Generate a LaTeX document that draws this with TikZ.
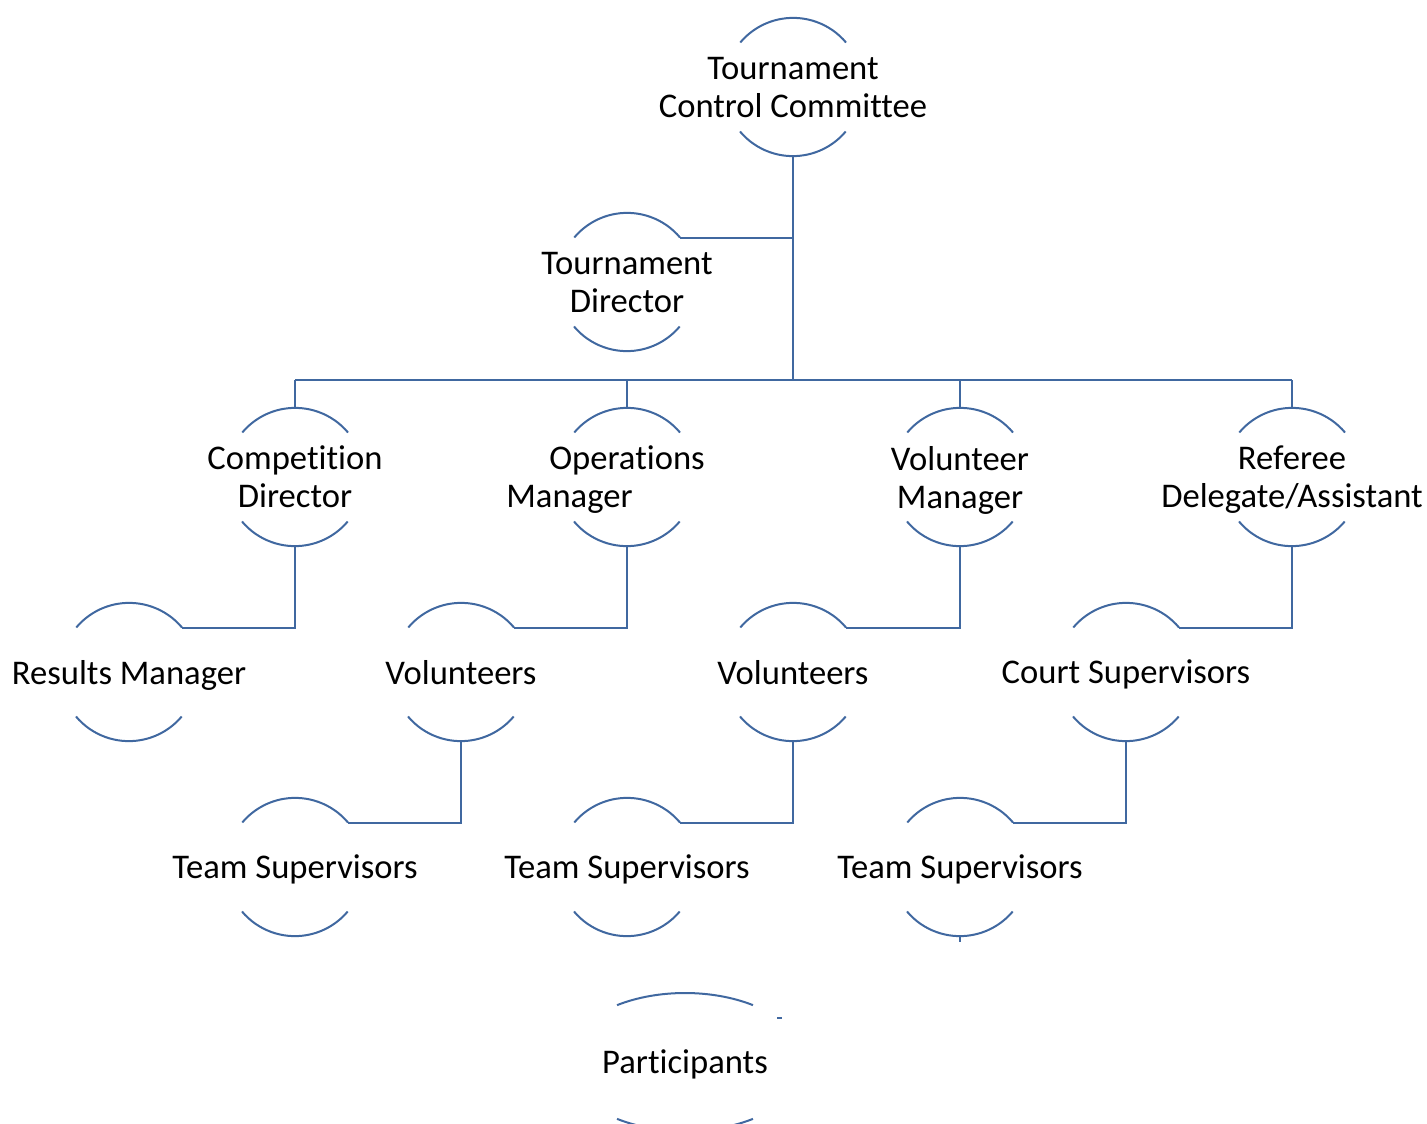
\documentclass[tikz,border=0pt]{standalone}
\usepackage{fontspec}
\setmainfont{Carlito}[Ligatures=NoCommon]
\definecolor{orgline}{RGB}{64,104,160}

\begin{document}
\begin{tikzpicture}[x=1pt,y=1pt,
    role/.style={circle,minimum size=138pt,inner sep=0pt},
    rolename/.style={align=center,text depth=0pt,font=\fontsize{34.6}{38}\selectfont},
    link/.style={draw=orgline,line width=2pt}]
      \def\r{69}
      \useasboundingbox (0,0) rectangle (1427,-1124);
      % committee and director
      \node[role,label={[rolename]center:Tournament\\Control Committee}] (tcc) at (793,-87) {};
      \node[role,label={[rolename]center:Tournament\\Director}] (td) at (627,-282) {};
      % managers
      \node[role,label={[rolename]center:Operations\\Manager\hspace*{115pt}}] (om) at (627,-477) {};
      \node[role,label={[rolename]center:Competition\\Director}] (cd) at (295,-477) {};
      \node[role,label={[rolename]center:Volunteer\\Manager}] (vm) at (960,-477) {};
      \node[role,label={[rolename]center:Referee\\Delegate/Assistant}] (rd) at (1292,-477) {};
      % second level
      \node[role,label={[rolename]center:Results Manager}] (rm) at (129,-672) {};
      \node[role,label={[rolename]center:Volunteers}] (vol1) at (461,-672) {};
      \node[role,label={[rolename]center:Volunteers}] (vol2) at (793,-672) {};
      \node[role,label={[rolename]center:Court Supervisors}] (cs) at (1126,-672) {};
      % supervisors
      \node[role,label={[rolename]center:Team Supervisors}] (ts1) at (295,-867) {};
      \node[role,label={[rolename]center:Team Supervisors}] (ts2) at (627,-867) {};
      \node[role,label={[rolename]center:Team Supervisors}] (ts3) at (960,-867) {};
      \node[rolename] (part) at (685,-1062) {Participants};
      % arcs round the names
      \foreach \n in {tcc,td,cd,om,vm,rd,rm,vol1,vol2,cs,ts1,ts2,ts3}{
        \draw[link] (\n.40) arc[start angle=40,end angle=140,radius=\r];
        \draw[link] (\n.220) arc[start angle=220,end angle=320,radius=\r];
      }
      \draw[link] (part.center) ++(124.5:120 and 69) arc[start angle=124.5,end angle=55.5,x radius=120,y radius=69];
      \draw[link] (part.center) ++(235.5:120 and 69) arc[start angle=235.5,end angle=304.5,x radius=120,y radius=69];
      % connectors
      \coordinate (bus) at (793,-380);
      \draw[link] (tcc.south) -- (bus);
      \draw[link] (tcc.south |- td.40) -- (td.40);
      \draw[link] (bus -| cd.north) -- (bus -| rd.north);
      \foreach \n in {cd,om,vm,rd}
        \draw[link] (bus -| \n.north) -- (\n.north);
      \draw[link] (cd.south) |- (rm.40);
      \draw[link] (om.south) |- (vol1.40);
      \draw[link] (vm.south) |- (vol2.40);
      \draw[link] (rd.south) |- (cs.40);
      \draw[link] (vol1.south) |- (ts1.40);
      \draw[link] (vol2.south) |- (ts2.40);
      \draw[link] (cs.south) |- (ts3.40);
      \draw[link] (ts3.south) -- ++(0,-6);
      \draw[link] (777,-1018) -- (782,-1018);
\end{tikzpicture}
\end{document}
